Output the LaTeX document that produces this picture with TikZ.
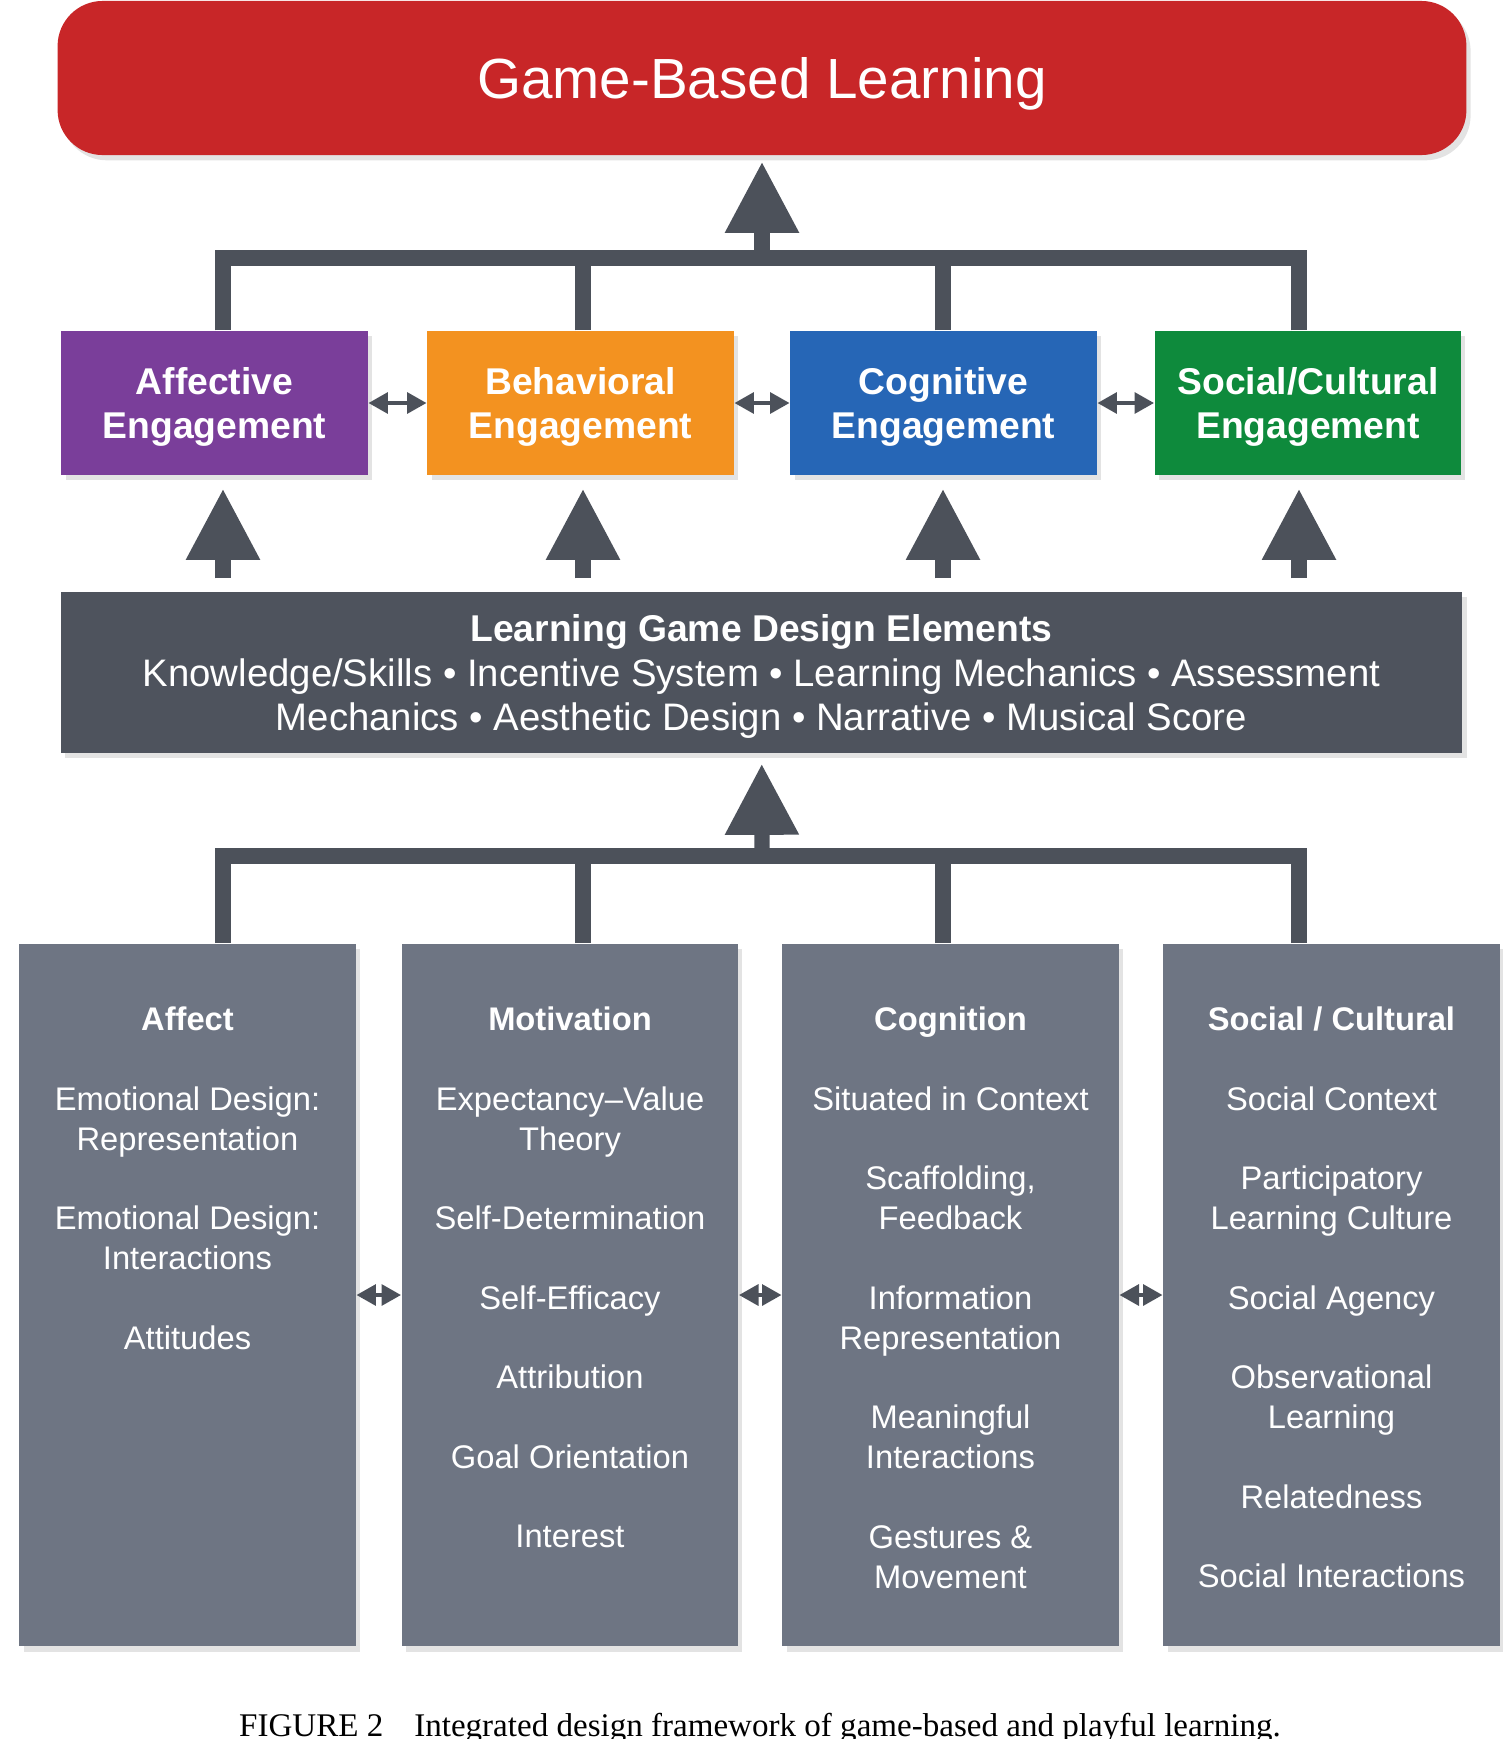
\documentclass[tikz,border=0pt]{standalone}
\usepackage{fontspec}
\setmainfont{Liberation Sans}
\newfontfamily\capfont{Liberation Serif}
\usetikzlibrary{arrows.meta,positioning,shadows}

\definecolor{gblred}{RGB}{200,38,40}
\definecolor{affpurple}{RGB}{122,62,154}
\definecolor{behorange}{RGB}{243,146,32}
\definecolor{cogblue}{RGB}{38,102,182}
\definecolor{socgreen}{RGB}{14,138,60}
\definecolor{darkslate}{RGB}{78,83,93}
\definecolor{colslate}{RGB}{110,117,131}
\definecolor{linkgray}{RGB}{76,81,90}

\begin{document}
\begin{tikzpicture}[x=0.01cm, y=-0.01cm,
  softshadow/.style={drop shadow={shadow xshift=1.2pt, shadow yshift=-1.5pt, opacity=0.22}},
  banner/.style={fill=gblred, rounded corners=0.45cm, minimum width=14.08cm, minimum height=1.54cm,
    text=white, text depth=0pt, font=\fontsize{16.1}{19}\selectfont, softshadow},
  engage/.style={minimum width=3.06cm, minimum height=1.44cm, text=white, align=center,
    text depth=-1.6pt, font=\bfseries\fontsize{10.6}{12.3}\selectfont, softshadow},
  designbox/.style={fill=darkslate, minimum width=14.01cm, minimum height=1.61cm, text=white,
    align=center, text depth=-1pt, font=\fontsize{10.9}{12.6}\selectfont, softshadow},
  column/.style={fill=colslate, minimum width=3.36cm, minimum height=7.02cm, softshadow},
  coltext/.style={text=white, align=center, inner sep=0pt, font=\fontsize{9.3}{11.4}\selectfont},
  trunk/.style={draw=linkgray, line width=4.3pt},
  bigarrow/.style={trunk, -{Triangle[width=0.70cm, length=0.71cm]}},
  linkarrow/.style={draw=linkgray, line width=1.4pt,
    {Triangle[width=5.8pt, length=5.6pt]}-{Triangle[width=5.8pt, length=5.6pt]}}]
  \useasboundingbox (0,0) rectangle (1502,1739);

  \node[banner] (gbl) at (762,78) {Game-Based Learning};

  % engagement row
  \node[engage, fill=affpurple] (aff) at (214.5,403) {Affective\\Engagement};
  \node[engage, fill=behorange] (beh) at (580.5,403) {Behavioral\\Engagement};
  \node[engage, fill=cogblue] (cog) at (943.5,403) {Cognitive\\Engagement};
  \node[engage, fill=socgreen] (soc) at (1308,403) {Social/Cultural\\Engagement};

  \node[designbox] (design) at (761.5,672.5)
    {{\bfseries\fontsize{10.6}{12.6}\selectfont Learning Game Design Elements}\\
     Knowledge/Skills • Incentive System • Learning Mechanics • Assessment\\
     Mechanics • Aesthetic Design • Narrative • Musical Score};

  % theory columns
  \node[column] (affect) at (187.5,1295) {};
  \node[column] (motiv) at (570,1295) {};
  \node[column] (cogn) at (950.5,1295) {};
  \node[column] (socc) at (1331.5,1295) {};

  \node[coltext, below=0.63cm of affect.north] (affecttxt)
    {\textbf{Affect}\\[11.2pt] Emotional Design:\\ Representation\\[11.2pt]
     Emotional Design:\\ Interactions\\[11.2pt] Attitudes};
  \node[coltext, below=0.63cm of motiv.north] (motivtxt)
    {\textbf{Motivation}\\[11.2pt] Expectancy–Value\\ Theory\\[11.2pt] Self-Determination\\[11.2pt]
     Self-Efficacy\\[11.2pt] Attribution\\[11.2pt] Goal Orientation\\[11.2pt] Interest};
  \node[coltext, below=0.63cm of cogn.north] (cogntxt)
    {\textbf{Cognition}\\[11.2pt] Situated in Context\\[11.2pt] Scaffolding,\\ Feedback\\[11.2pt]
     Information\\ Representation\\[11.2pt] Meaningful\\ Interactions\\[11.2pt] Gestures \&\\ Movement};
  \node[coltext, below=0.63cm of socc.north] (socctxt)
    {\textbf{Social / Cultural}\\[11.2pt] Social Context\\[11.2pt] Participatory\\ Learning Culture\\[11.2pt]
     Social Agency\\[11.2pt] Observational\\ Learning\\[11.2pt] Relatedness\\[11.2pt] Social Interactions};

  \node[font=\capfont\fontsize{9.4}{11}\selectfont, anchor=base] (cap) at (760,1736)
    {FIGURE 2\hspace{8.8pt}Integrated design framework of game-based and playful learning.};

  % branches
  \coordinate (topjoin) at (762,258);
  \coordinate (midjoin) at (762,856);
  \coordinate (c1) at (223,0);
  \coordinate (c2) at (583,0);
  \coordinate (c3) at (943,0);
  \coordinate (c4) at (1299,0);

  \draw[trunk] (c1 |- aff.north) |- (topjoin);
  \draw[trunk] (c4 |- soc.north) |- (topjoin);
  \draw[trunk] (c2 |- beh.north) -- (c2 |- topjoin);
  \draw[trunk] (c3 |- cog.north) -- (c3 |- topjoin);
  \draw[bigarrow, shorten >=0.06cm] (topjoin) -- (gbl);

  \draw[bigarrow, shorten <=0.13cm, shorten >=0.13cm] (c1 |- design.north) -- (c1 |- aff.south);
  \draw[bigarrow, shorten <=0.13cm, shorten >=0.13cm] (c2 |- design.north) -- (c2 |- beh.south);
  \draw[bigarrow, shorten <=0.13cm, shorten >=0.13cm] (c3 |- design.north) -- (c3 |- cog.south);
  \draw[bigarrow, shorten <=0.13cm, shorten >=0.13cm] (c4 |- design.north) -- (c4 |- soc.south);

  \draw[trunk] (c1 |- affect.north) |- (midjoin);
  \draw[trunk] (c4 |- socc.north) |- (midjoin);
  \draw[trunk] (c2 |- motiv.north) -- (c2 |- midjoin);
  \draw[trunk] (c3 |- cogn.north) -- (c3 |- midjoin);
  \draw[bigarrow, shorten >=0.10cm] (midjoin) -- (design);

  \draw[linkarrow] (aff.east) -- (beh.west);
  \draw[linkarrow] (beh.east) -- (cog.west);
  \draw[linkarrow] (cog.east) -- (soc.west);
  \draw[linkarrow] (affect.east) -- (motiv.west);
  \draw[linkarrow] (motiv.east) -- (cogn.west);
  \draw[linkarrow] (cogn.east) -- (socc.west);
\end{tikzpicture}
\end{document}
